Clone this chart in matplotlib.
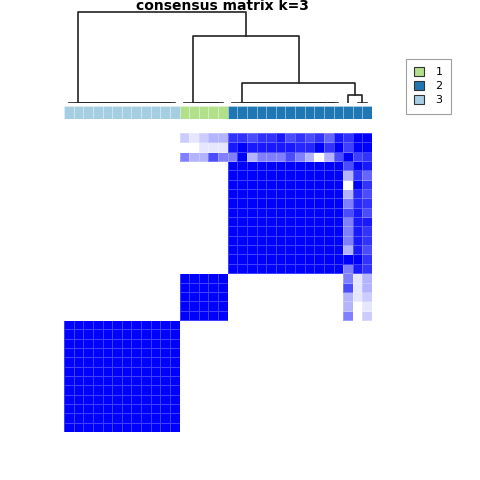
import numpy as np
import matplotlib
matplotlib.use("Agg")
import matplotlib.pyplot as plt
from matplotlib.colors import LinearSegmentedColormap
from matplotlib.patches import Patch

# sample order (left->right on x, bottom->top on y)
class_labels = [3] * 12 + [1] * 5 + [2] * 15
class_colors = {1: "#b2df8a", 2: "#1f78b4", 3: "#a6cee3"}

# groups of samples that always end up together (consensus = 1)
stable_blocks = [(0, 12), (12, 17), (17, 29)]

# consensus of the three unstable samples with samples 12..31
unstable_idx = [29, 30, 31]
cons_29 = [0.5, 0.3, 0.3, 0.7, 0.5,
           0.5, 1.0, 0.3, 0.5, 0.5, 0.5, 0.7, 0.5, 0.3, 0.0, 0.3, 0.7,
           1.0, 0.75, 0.8]
cons_30 = [0.0, 0.0, 0.1, 0.1, 0.1,
           0.9, 1.0, 0.9, 0.9, 0.9, 0.9, 0.9, 0.85, 0.85, 1.0, 0.8, 1.0,
           0.75, 1.0, 1.0]
cons_31 = [0.2, 0.1, 0.2, 0.3, 0.3,
           0.8, 0.8, 0.7, 0.8, 0.8, 0.9, 0.7, 0.8, 0.7, 0.8, 0.6, 0.9,
           0.8, 1.0, 1.0]

# dendrogram merge heights (relative)
h_root = 1.0
h_c1_c2 = 0.736
h_c2_split = 0.22
h_unstable = 0.088

n = len(class_labels)
M = np.zeros((n, n))
for a, b in stable_blocks:
    M[a:b, a:b] = 1.0
for i, row in zip(unstable_idx, [cons_29, cons_30, cons_31]):
    M[i, 12:] = row
    M[12:, i] = row


# ---- tree: chains of zero-height merges inside groups ----
def chain(idx):
    node = idx[-1]
    for k in reversed(idx[:-1]):
        node = (k, node, 0.0)
    return node

tree = (chain(list(range(0, 12))),
        (chain(list(range(12, 17))),
         (chain(list(range(17, 29))),
          (29, (30, 31, 0.0), h_unstable),
          h_c2_split),
         h_c1_c2),
        h_root)

segs = []
def walk(node):
    if isinstance(node, int):
        return node + 0.5, 0.0
    l, r, h = node
    xl, yl = walk(l)
    xr, yr = walk(r)
    segs.append(([xl, xl, xr, xr], [yl, h, h, yr]))
    return (xl + xr) / 2, h

fig = plt.figure(figsize=(4.8, 4.8), dpi=100)
W = H = 480.0
def rect(x0, y0, x1, y1):
    return [x0 / W, 1 - y1 / H, (x1 - x0) / W, (y1 - y0) / H]

# dendrogram
axd = fig.add_axes(rect(64, 10.2, 372, 103))
walk(tree)
for xs, ys in segs:
    axd.plot(xs, ys, color="#222222", lw=1.2)
axd.set_xlim(0, n)
axd.set_ylim(0, 1.02)
axd.axis("off")

# class label bar
axl = fig.add_axes(rect(64, 106, 372, 119.3))
bar_cols = [class_colors[c] for c in class_labels]
for i, c in enumerate(bar_cols):
    axl.bar(i + 0.5, 1, width=1, color=c, edgecolor=(1, 1, 1, 0.3), lw=0.5)
axl.set_xlim(0, n)
axl.set_ylim(0, 1)
axl.axis("off")

# heatmap
axh = fig.add_axes(rect(64, 133, 372, 432))
cmap = LinearSegmentedColormap.from_list("wb", ["white", "blue"])
axh.pcolormesh(np.arange(n + 1), np.arange(n + 1), M, cmap=cmap, vmin=0, vmax=1,
               edgecolors=(1, 1, 1, 0.25), linewidth=0.5)
axh.set_xlim(0, n)
axh.set_ylim(0, n)
axh.axis("off")

fig.text(222 / W, 1 - 10.5 / H, "consensus matrix k=3", ha="center", va="baseline",
         fontsize=10, fontweight="bold")

handles = [Patch(facecolor=class_colors[k], edgecolor="#333333", lw=0.8) for k in [1, 2, 3]]
leg = fig.legend(handles, ["1", "2", "3"], loc="upper left",
                 bbox_to_anchor=(406 / W, 1 - 59 / H), fontsize=8,
                 handlelength=0.9, handleheight=0.8, handletextpad=1.0,
                 labelspacing=0.35, borderpad=0.75, borderaxespad=0,
                 fancybox=False)
leg.get_frame().set_edgecolor("#888888")
leg.get_frame().set_linewidth(0.8)

fig.savefig("out.png", dpi=100)
